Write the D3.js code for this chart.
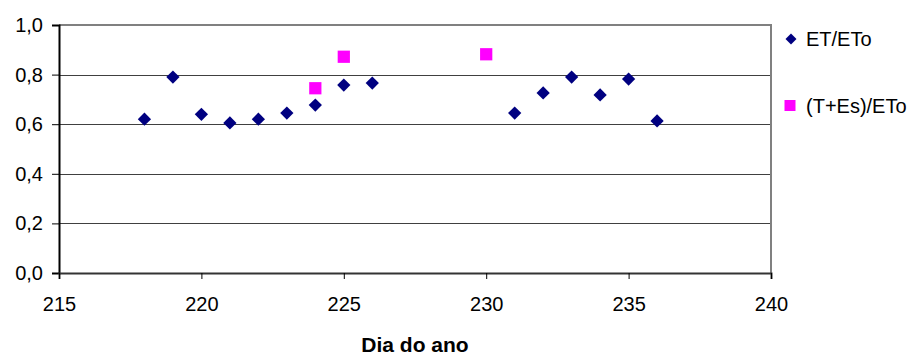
<!DOCTYPE html>
<html>
<head>
<meta charset="utf-8">
<script src="https://cdn.jsdelivr.net/npm/d3@7"></script>
<style>
  body { margin: 0; background: #fff; }
  text { font-family: "Liberation Sans", Arial, sans-serif; }
</style>
</head>
<body>
<script>
const WIDTH = 912;
const HEIGHT = 356;

// ET/ETo series
var ET_DAYS = [218, 219, 220, 221, 222, 223, 224, 225, 226, 231, 232, 233, 234, 235, 236];
var ET_VALUES = [0.62, 0.79, 0.64, 0.605, 0.62, 0.645, 0.677, 0.758, 0.766, 0.645, 0.726, 0.79, 0.718, 0.782, 0.613];

// (T+Es)/ETo series
var TES_DAYS = [224, 225, 230];
var TES_VALUES = [0.745, 0.872, 0.882];

var X_TICKS = [215, 220, 225, 230, 235, 240];
var Y_TICKS = [0, 0.2, 0.4, 0.6, 0.8, 1.0];

var margin = { left: 59, right: 141, top: 25, bottom: 83 };
var plotW = WIDTH - margin.left - margin.right;
var plotH = HEIGHT - margin.top - margin.bottom;

//DEFINE scales
var xScale = d3.scaleLinear().domain([215, 240]).range([0, plotW]);
var yScale = d3.scaleLinear().domain([0, 1]).range([plotH, 0]);

var fmt = (d) => d3.format(".1f")(d).replace(".", ",");

var svg = d3.select("body").append("svg")
  .attr("width", WIDTH)
  .attr("height", HEIGHT);

var g = svg.append("g")
  .attr("transform", "translate(" + margin.left + "," + margin.top + ")");

//gridlines
g.selectAll("line.grid")
  .data(Y_TICKS.filter((d) => d > 0 && d < 1))
  .enter()
  .append("line")
  .attr("class", "grid")
  .attr("x1", 0)
  .attr("x2", plotW)
  .attr("y1", (d) => Math.round(yScale(d)) + 0.5)
  .attr("y2", (d) => Math.round(yScale(d)) + 0.5)
  .attr("stroke", "#404040")
  .attr("stroke-width", 1);

//top and right border
g.append("path")
  .attr("d", "M0," + yScale(1) + "H" + plotW + "V" + plotH)
  .attr("fill", "none")
  .attr("stroke", "#808080")
  .attr("stroke-width", 2);

//y axis
var yAxis = g.append("g")
  .call(d3.axisLeft(yScale).tickValues(Y_TICKS).tickFormat(fmt).tickSize(7).tickPadding(9));
yAxis.select(".domain").attr("stroke", "#000").attr("stroke-width", 2);
yAxis.selectAll(".tick line").attr("stroke", "#000");
yAxis.selectAll(".tick text")
  .attr("font-size", "20px")
  .attr("fill", "#000")
  .style("font-family", "'Liberation Sans', Arial, sans-serif");

//x axis
var xAxis = g.append("g")
  .attr("transform", "translate(0," + plotH + ")")
  .call(d3.axisBottom(xScale).tickValues(X_TICKS).tickFormat(d3.format("d")).tickSize(6).tickPadding(18));
xAxis.select(".domain").attr("stroke", "#333").attr("stroke-width", 2);
xAxis.selectAll(".tick line").attr("stroke", "#000");
xAxis.selectAll(".tick text")
  .attr("font-size", "20px")
  .attr("fill", "#000")
  .style("font-family", "'Liberation Sans', Arial, sans-serif");

//x title
svg.append("text")
  .attr("x", margin.left + plotW / 2)
  .attr("y", 352)
  .attr("text-anchor", "middle")
  .attr("font-size", "21px")
  .attr("font-weight", "bold")
  .text("Dia do ano");

var diamond = d3.symbol().type(d3.symbolSquare).size(88);
var square = d3.symbol().type(d3.symbolSquare).size(150);

//pink squares
g.selectAll("path.tes")
  .data(TES_DAYS)
  .enter()
  .append("path")
  .attr("class", "tes")
  .attr("d", square)
  .attr("transform", (d, i) => "translate(" + xScale(d) + "," + yScale(TES_VALUES[i]) + ")")
  .attr("fill", "#ff00ff");

//navy diamonds
g.selectAll("path.et")
  .data(ET_DAYS)
  .enter()
  .append("path")
  .attr("class", "et")
  .attr("d", diamond)
  .attr("transform", (d, i) => "translate(" + xScale(d) + "," + yScale(ET_VALUES[i]) + ") rotate(45)")
  .attr("fill", "#000080");

//legend
var legend = svg.append("g");
legend.append("path")
  .attr("d", d3.symbol().type(d3.symbolSquare).size(60))
  .attr("transform", "translate(791,39) rotate(45)")
  .attr("fill", "#000080");
legend.append("text")
  .attr("x", 806)
  .attr("y", 46)
  .attr("font-size", "20px")
  .text("ET/ETo");
legend.append("path")
  .attr("d", d3.symbol().type(d3.symbolSquare).size(121))
  .attr("transform", "translate(790,105.5)")
  .attr("fill", "#ff00ff");
legend.append("text")
  .attr("x", 806)
  .attr("y", 112.5)
  .attr("font-size", "20px")
  .text("(T+Es)/ETo");
</script>
</body>
</html>
